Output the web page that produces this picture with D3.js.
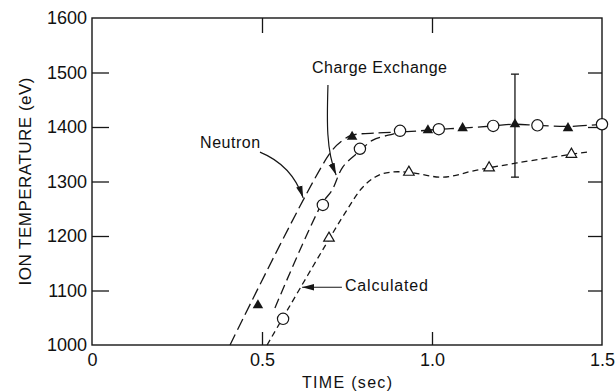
<!DOCTYPE html>
<html>
<head>
<meta charset="utf-8">
<script src="https://cdn.jsdelivr.net/npm/d3@7"></script>
<style>
  body { margin: 0; background: #fff; }
  text { font-family: "Liberation Sans", Arial, sans-serif; fill: #111; }
</style>
</head>
<body>
<div id="chart"></div>
<script>
// Tick values and labels
const yTicks = [1000, 1100, 1200, 1300, 1400, 1500, 1600];
const xTicks = [0, 0.5, 1.0, 1.5];
const xTickLabels = ["0", "0.5", "1.0", "1.5"];

// Curves: [time (sec), ion temperature (eV)]
const neutronCurve = [[0.406, 1000], [0.70, 1352], [0.738, 1376], [0.765, 1385], [0.84, 1389], [0.912, 1391]];
const chargeCurve = [[0.538, 1068], [0.676, 1259], [0.706, 1284], [0.738, 1327], [0.788, 1356], [0.826, 1376], [0.885, 1387], [0.912, 1391]];
const plateauCurve = [[0.912, 1391], [0.988, 1394], [1.02, 1396], [1.09, 1398], [1.18, 1402], [1.244, 1405], [1.31, 1403], [1.40, 1401], [1.5, 1405]];
const calcCurve = [[0.515, 1000], [0.744, 1242], [0.797, 1290], [0.838, 1310], [0.876, 1317], [0.932, 1317], [1.032, 1308], [1.132, 1321], [1.25, 1334], [1.41, 1350], [1.459, 1354]];

// Measured points
const neutronTimes = [0.488, 0.765, 0.988, 1.09, 1.244, 1.40];
const neutronTemps = [1073, 1382, 1394, 1398, 1405, 1398];
const chargeTimes = [0.562, 0.679, 0.788, 0.906, 1.02, 1.18, 1.31, 1.50];
const chargeTemps = [1048, 1257, 1360, 1393, 1396, 1402, 1403, 1405];
const calcTimes = [0.697, 0.932, 1.168, 1.41];
const calcTemps = [1196, 1317, 1325, 1350];

// Error bar on the neutron point at 1.244 s
const errTime = 1.244, errLow = 1308, errHigh = 1497;

const width = 616, height = 391;
const margin = {top: 18, right: 14, bottom: 46, left: 92};

const svg = d3.select("#chart")
  .append("svg")
    .attr("width", width)
    .attr("height", height);

const x = d3.scaleLinear()
  .domain([0, 1.5])
  .range([margin.left, width - margin.right]);

const y = d3.scaleLinear()
  .domain([1000, 1600])
  .range([height - margin.bottom, margin.top]);

const ink = "#161616";

// Left axis: labels and inward ticks
const yAxisG = svg.append("g")
  .attr("transform", `translate(${margin.left},0)`)
  .call(d3.axisLeft(y).tickValues(yTicks).tickSize(-17).tickPadding(5).tickFormat(d3.format("d")));
yAxisG.select(".domain").remove();
yAxisG.selectAll(".tick line").filter(d => d === 1000 || d === 1600).remove();

// Right axis: inward ticks only
const yAxisR = svg.append("g")
  .attr("transform", `translate(${width - margin.right},0)`)
  .call(d3.axisRight(y).tickValues(yTicks.slice(1, -1)).tickSize(-14).tickFormat(""));
yAxisR.select(".domain").remove();

// Top axis: inward ticks only
const xAxisT = svg.append("g")
  .attr("transform", `translate(0,${margin.top})`)
  .call(d3.axisTop(x).tickValues([0.5, 1.0]).tickSize(-15).tickFormat(""));
xAxisT.select(".domain").remove();

// Bottom axis
const xAxisG = svg.append("g")
  .attr("transform", `translate(0,${height - margin.bottom})`)
  .call(d3.axisBottom(x).tickValues(xTicks).tickSize(-13).tickPadding(8).tickFormat((d, i) => xTickLabels[i]));
xAxisG.select(".domain").remove();
xAxisG.selectAll(".tick line").filter(d => d === 0 || d === 1.5).remove();

svg.selectAll(".tick line").attr("stroke", ink).attr("stroke-width", 1.3);
svg.selectAll(".tick text")
  .attr("font-size", 18)
  .attr("font-family", "Liberation Sans, Arial, sans-serif")
  .attr("fill", ink);

// Frame
svg.append("rect")
  .attr("x", x(0))
  .attr("y", y(1600))
  .attr("width", x(1.5) - x(0))
  .attr("height", y(1000) - y(1600))
  .attr("fill", "none")
  .attr("stroke", ink)
  .attr("stroke-width", 1.4);

// Axis titles
svg.append("text")
  .attr("x", (x(0) + x(1.5)) / 2)
  .attr("y", 388)
  .attr("text-anchor", "middle")
  .attr("font-size", 16)
  .attr("textLength", 90)
  .attr("lengthAdjust", "spacing")
  .text("TIME (sec)");

svg.append("text")
  .attr("transform", `translate(31,${(y(1000) + y(1600)) / 2}) rotate(-90)`)
  .attr("text-anchor", "middle")
  .attr("font-size", 17)
  .attr("textLength", 208)
  .attr("lengthAdjust", "spacing")
  .text("ION TEMPERATURE (eV)");

// Curves
const line = d3.line()
  .x(d => x(d[0]))
  .y(d => y(d[1]))
  .curve(d3.curveCatmullRom.alpha(0.5));

const curves = [
  {data: neutronCurve, dash: "12,5"},
  {data: chargeCurve, dash: "10,5"},
  {data: plateauCurve, dash: "14,5"},
  {data: calcCurve, dash: "6,4"}
];

svg.selectAll(".curve")
  .data(curves)
  .join("path")
    .attr("class", "curve")
    .attr("d", d => line(d.data))
    .attr("fill", "none")
    .attr("stroke", ink)
    .attr("stroke-width", 1.3)
    .attr("stroke-dasharray", d => d.dash);

// Error bar
svg.append("line")
  .attr("x1", x(errTime)).attr("x2", x(errTime))
  .attr("y1", y(errLow)).attr("y2", y(errHigh))
  .attr("stroke", ink).attr("stroke-width", 1.3);
[errLow, errHigh].forEach(v => {
  svg.append("line")
    .attr("x1", x(errTime) - 4).attr("x2", x(errTime) + 4)
    .attr("y1", y(v)).attr("y2", y(v))
    .attr("stroke", ink).attr("stroke-width", 1.3);
});

// Markers
const tri = d3.symbol().type(d3.symbolTriangle).size(48);
const circ = d3.symbol().type(d3.symbolCircle).size(100);

svg.selectAll(".calc-pt")
  .data(d3.zip(calcTimes, calcTemps))
  .join("path")
    .attr("class", "calc-pt")
    .attr("transform", d => `translate(${x(d[0])},${y(d[1])})`)
    .attr("d", tri)
    .attr("fill", "#fff")
    .attr("stroke", ink)
    .attr("stroke-width", 1.2);

svg.selectAll(".charge-pt")
  .data(d3.zip(chargeTimes, chargeTemps))
  .join("path")
    .attr("class", "charge-pt")
    .attr("transform", d => `translate(${x(d[0])},${y(d[1])})`)
    .attr("d", circ)
    .attr("fill", "#fff")
    .attr("stroke", ink)
    .attr("stroke-width", 1.2);

svg.selectAll(".neutron-pt")
  .data(d3.zip(neutronTimes, neutronTemps))
  .join("path")
    .attr("class", "neutron-pt")
    .attr("transform", d => `translate(${x(d[0])},${y(d[1])})`)
    .attr("d", tri)
    .attr("fill", ink);

// Arrowhead marker
svg.append("defs").append("marker")
  .attr("id", "head")
  .attr("viewBox", "0 0 12 8")
  .attr("refX", 12)
  .attr("refY", 4)
  .attr("markerWidth", 12)
  .attr("markerHeight", 8)
  .attr("markerUnits", "userSpaceOnUse")
  .attr("orient", "auto")
  .append("path")
    .attr("d", "M0,0.8 L12,4 L0,7.2 Z")
    .attr("fill", ink);

const arrow = (pts) => {
  const p = pts.map(d => [x(d[0]), y(d[1])]);
  let d = `M${p[0]}`;
  if (p.length === 2) d += `L${p[1]}`;
  if (p.length === 3) d += `Q${p[1]} ${p[2]}`;
  if (p.length === 4) d += `C${p[1]} ${p[2]} ${p[3]}`;
  svg.append("path")
    .attr("d", d)
    .attr("fill", "none")
    .attr("stroke", ink)
    .attr("stroke-width", 1.2)
    .attr("marker-end", "url(#head)");
};

// Annotations (anchor points in data units)
arrow([[0.494, 1354], [0.588, 1330], [0.621, 1270]]);
arrow([[0.694, 1477], [0.691, 1413], [0.688, 1358], [0.718, 1312]]);
arrow([[0.735, 1106], [0.618, 1106]]);

const label = (t, v, str, len) => svg.append("text")
  .attr("x", x(t))
  .attr("y", y(v))
  .attr("font-size", 16)
  .attr("textLength", len)
  .attr("lengthAdjust", "spacing")
  .text(str);

label(0.318, 1361, "Neutron", 60);
label(0.647, 1500, "Charge Exchange", 135);
label(0.744, 1099, "Calculated", 83);
</script>
</body>
</html>
